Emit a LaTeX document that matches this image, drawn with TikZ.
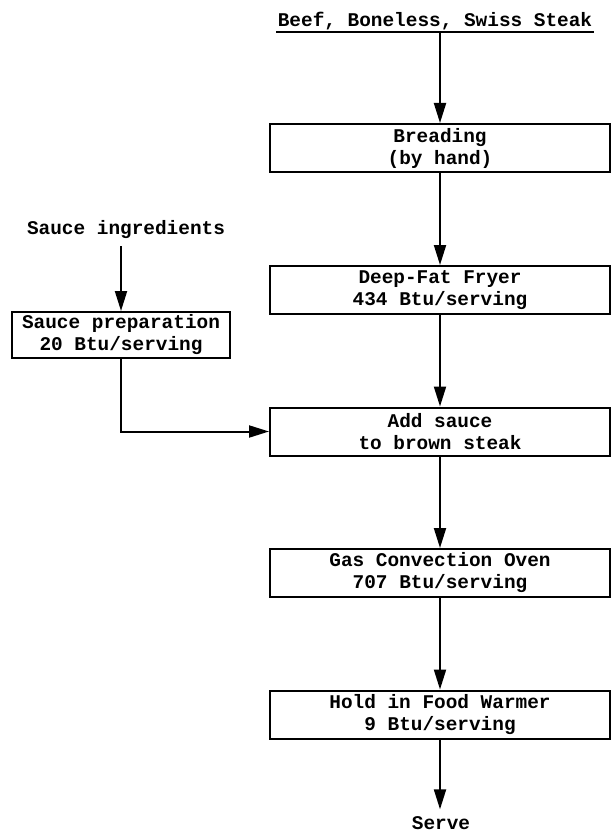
\documentclass[tikz,border=0pt]{standalone}
\usepackage{fontspec}
\setmainfont{Liberation Mono}
\usetikzlibrary{arrows.meta,positioning}

\begin{document}
\begin{tikzpicture}[x=0.5pt, y=-0.5pt, >={Triangle[length=10pt,width=6pt]},
  font=\fontsize{9.7}{11}\selectfont\bfseries,
  procbox/.style={draw, line width=1pt, minimum width=170pt, minimum height=24pt, align=center, inner sep=0pt},
  saucebox/.style={procbox, minimum width=109pt, minimum height=23pt},
  flow/.style={->, line width=1pt}]
  \useasboundingbox (0,0) rectangle (611,834);
  % main line
  \node[inner sep=0.5pt, anchor=base] (beef) at (435,27) {Beef, Boneless, Swiss Steak};
  \draw[line width=1pt] (beef.south west) -- (beef.south east);
  \node[procbox] (bread) at (440,148) {Breading\\(by hand)};
  \node[procbox] (fryer) at (440,290) {Deep-Fat Fryer\\434 Btu/serving};
  \node[procbox] (addsauce) at (440,431.5) {Add sauce\\to brown steak};
  \node[procbox] (oven) at (440,573) {Gas Convection Oven\\707 Btu/serving};
  \node[procbox] (warmer) at (440,714.5) {Hold in Food Warmer\\9 Btu/serving};
  \node (serve) at (441,823) {Serve};
  % sauce branch
  \node (ingred) at (126,230) {Sauce ingredients};
  \node[saucebox] (sauce) at (121,335) {Sauce preparation\\20 Btu/serving};

  \draw[flow] (beef.south -| bread.north) -- (bread.north);
  \draw[flow] (bread) -- (fryer);
  \draw[flow] (fryer) -- (addsauce);
  \draw[flow] (addsauce) -- (oven);
  \draw[flow] (oven) -- (warmer);
  \draw[flow] (warmer.south) -- (serve.north -| warmer.south);
  \draw[flow] (ingred.south -| sauce.north) -- (sauce.north);
  \draw[flow] (sauce.south) |- (addsauce.west);
\end{tikzpicture}
\end{document}
